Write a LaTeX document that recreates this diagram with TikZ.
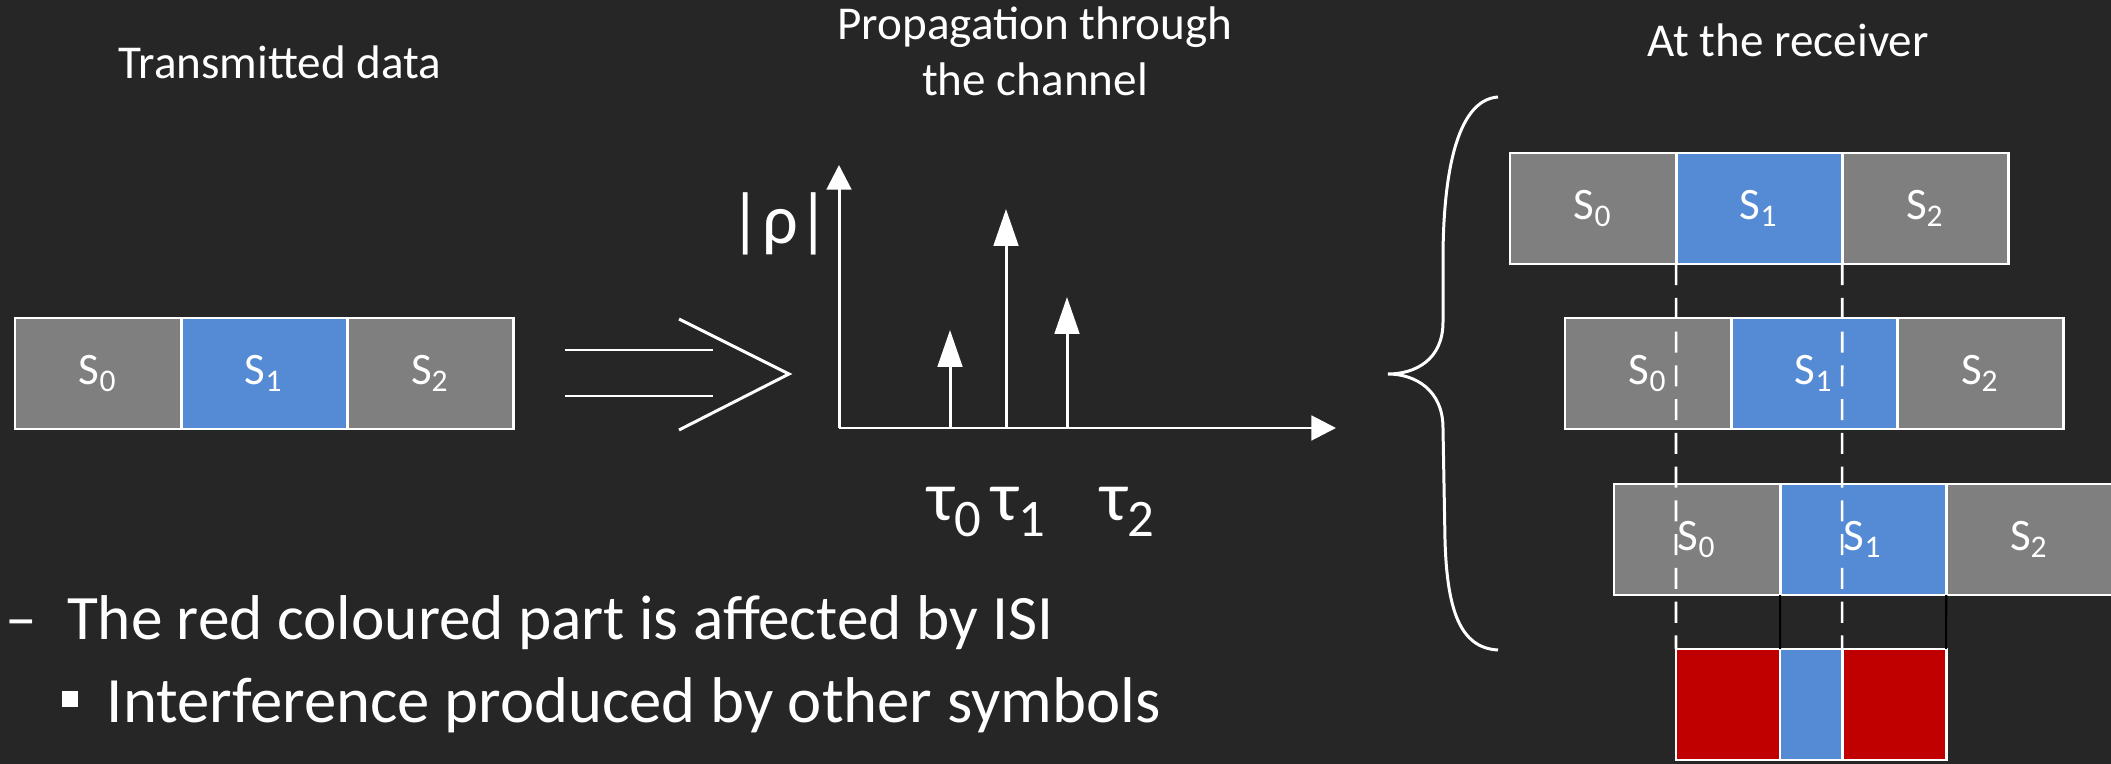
\documentclass[tikz,border=0pt]{standalone}
\usepackage{fontspec}
\setmainfont{Carlito}
\usepackage{xcolor}
\usetikzlibrary{arrows.meta,positioning}
\definecolor{board}{RGB}{38,38,38}
\definecolor{cgray}{RGB}{127,127,127}
\definecolor{cblue}{RGB}{85,138,213}
\definecolor{cred}{RGB}{192,0,0}

\tikzset{
  cell/.style={draw=white, line width=0.8pt, minimum width=1.66cm, minimum height=1.11cm,
    inner sep=0pt, outer sep=0pt, text=white, font=\fontsize{12.8}{15}\selectfont},
  graycell/.style={cell, fill=cgray},
  bluecell/.style={cell, fill=cblue},
  redcell/.style={cell, fill=cred, minimum width=1.04cm},
  chalk/.style={white, line width=0.85pt},
  title/.style={text=white, anchor=base, inner sep=0pt, font=\fontsize{13.4}{16}\selectfont},
  greek/.style={text=white, inner sep=0pt, font=\fontsize{20}{24}\selectfont},
  bodytext/.style={text=white, anchor=base west, inner sep=0pt, font=\fontsize{18}{22}\selectfont},
  axisarrow/.style={chalk, -{Triangle[width=7pt,length=7pt]}},
  spike/.style={chalk, -{Triangle[width=7pt,length=10.5pt]}},
  guide/.style={white, line width=0.75pt, dash pattern=on 6pt off 3.6pt},
}

% one row of three symbols: name, left x, top y
\newcommand{\symrow}[3]{%
  \node[graycell, anchor=north west] (#1s0) at (#2,#3) {S\textsubscript{0}};
  \node[bluecell, right=0pt of #1s0] (#1s1) {S\textsubscript{1}};
  \node[graycell, right=0pt of #1s1] (#1s2) {S\textsubscript{2}};}
\newcommand{\lowsub}[1]{\raisebox{-4.5pt}{\fontsize{15}{15}\selectfont #1}}

\begin{document}
\begin{tikzpicture}[x=0.01cm,y=-0.01cm]
\useasboundingbox (0,0) rectangle (2111,764);
\fill[board] (0,0) rectangle (2111,764);

%Set up:
\node[title] (txtitle) at (280,79) {Transmitted data};
\node[title] (prop1) at (1035,40) {Propagation through};
\node[title] (prop2) at (1035,96) {the channel};
\node[title] (rxtitle) at (1788,57) {At the receiver};

\symrow{tx}{15}{318}

% double arrow
\coordinate (tip) at (789,374);
\draw[chalk] (565,350) -- (713,350);
\draw[chalk] (565,396) -- (713,396);
\draw[chalk] (679,319) -- (tip) -- (679,430);

% channel impulse response
\coordinate (O) at (839,428);
\draw[axisarrow] (O) -- (839,165);
\draw[axisarrow] (O) -- (1336,428);
\foreach \x/\h in {950/330,1006/209,1067/297}
  \draw[spike] (\x,428) -- (\x,\h);
\node[greek] (rho) at (780,224) {|ρ|};
\node[greek, anchor=base] (tau0) at (954,521) {τ\lowsub{0}};
\node[greek, anchor=base] (tau1) at (1018,521) {τ\lowsub{1}};
\node[greek, anchor=base] (tau2) at (1127,521) {τ\lowsub{2}};

% brace
\draw[chalk] (1498,97) .. controls (1455,100) and (1443,180) .. (1443,260) -- (1443,322)
  .. controls (1443,360) and (1415,374) .. (1388,374)
  .. controls (1415,374) and (1443,390) .. (1443,428) -- (1445,540)
  .. controls (1447,610) and (1460,648) .. (1498,650);

% receiver
\symrow{r1}{1510}{153}
\symrow{r2}{1565}{318}
\symrow{r3}{1614}{484}
\node[redcell, anchor=north west] (isiL) at (1676,649) {};
\node[bluecell, minimum width=0.62cm, right=0pt of isiL] (isiM) {};
\node[redcell, right=0pt of isiM] (isiR) {};

\draw[guide] (r1s0.south east) -- (isiL.north west);
\draw[guide] (r1s1.south east) -- (isiM.north east);
\draw[black, line width=0.6pt] (r3s0.south east) -- (isiL.north east);
\draw[black, line width=0.6pt] (r3s1.south east) -- (isiR.north east);

% notes
\node[bodytext] (isiline) at (5,640) {–\hspace{8.5pt}The red coloured part is affected by ISI};
\node[fill=white, minimum size=4.3pt, inner sep=0pt] (bullet) at (70,699) {};
\node[bodytext, font=\fontsize{18.4}{22}\selectfont] (isinote) at (106,723) {Interference produced by other symbols};
\end{tikzpicture}
\end{document}
